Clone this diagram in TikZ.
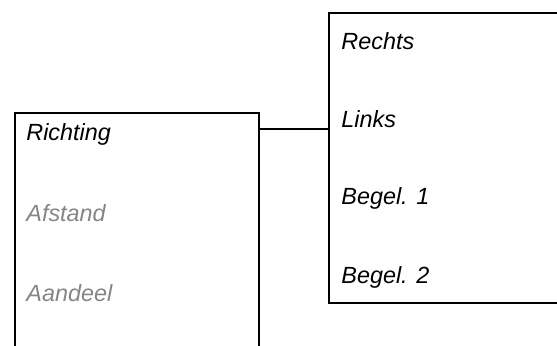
\documentclass[tikz,border=0pt]{standalone}
\usepackage{fontspec}
\setmainfont{Liberation Sans}
\begin{document}
\begin{tikzpicture}[x=0.5pt, y=-0.5pt, font=\itshape\fontsize{11.7}{14}\selectfont,
    box/.style={draw, line width=0.85pt, inner sep=0pt},
    item/.style={anchor=west, inner sep=0pt},
    faded/.style={text=black!48}]
    \useasboundingbox (0,0) rectangle (557,345);
    \clip (0,0) rectangle (557,345);
    % boxes
    \node[box, anchor=north west, minimum width=122pt, minimum height=125pt] (lbox) at (14,112) {};
    \node[box, anchor=north west, minimum width=122pt, minimum height=145pt] (rbox) at (328,12) {};
    % left list
    \node[item] (richting) at (26,134) {Richting};
    \node[item, faded] (afstand) at (26,213) {Afstand};
    \node[item, faded] (aandeel) at (26,293) {Aandeel};
    % right list
    \node[item] (rechts) at (341,41) {Rechts};
    \node[item] (links) at (341,119) {Links};
    \node[item] (begel1) at (341,198) {Begel. 1};
    \node[item] (begel2) at (341,277) {Begel. 2};
    % connector
    \coordinate (joint) at (0,129);
    \draw[line width=0.85pt] (lbox.east |- joint) -- (rbox.west |- joint);
\end{tikzpicture}
\end{document}
